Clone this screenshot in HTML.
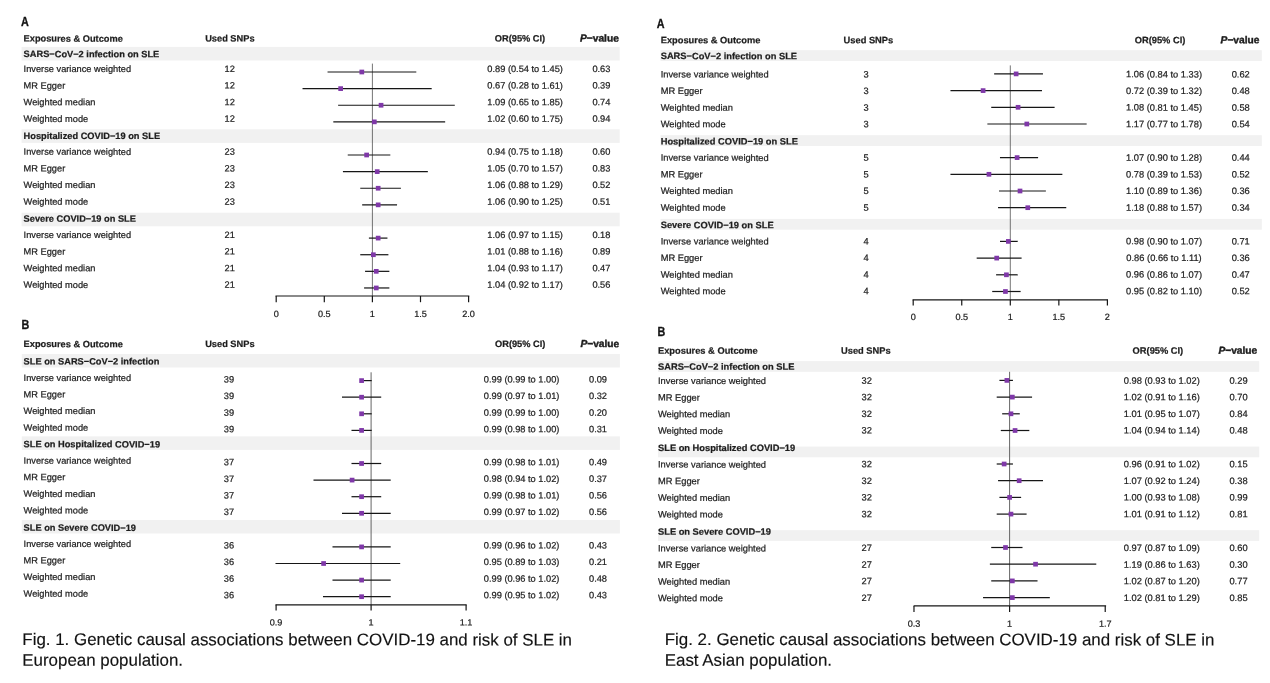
<!DOCTYPE html>
<html lang="en"><head><meta charset="utf-8"><title>Genetic causal associations between COVID-19 and risk of SLE</title>
<style>
html,body{margin:0;padding:0;background:#fff;}
body{width:1270px;height:683px;overflow:hidden;}
svg{display:block;font-family:"Liberation Sans",Arial,Helvetica,sans-serif;}
text{stroke:#1c1c1c;stroke-width:0.22px;paint-order:stroke fill;}
text.cap{stroke-width:0.15px;}
text.pv{stroke-width:0.4px;}
text.ltr{stroke:#111;stroke-width:0.3px;}
</style></head><body>
<svg width="1270" height="683" viewBox="0 0 1270 683">
<rect x="0" y="0" width="1270" height="683" fill="#ffffff"/>
<text transform="translate(20.90,26.00) skewY(0.05) scale(0.82,1)" class="ltr" font-weight="bold" font-size="13.2" fill="#111">A</text>
<text transform="translate(23.60 41.60) skewY(0.05)" font-weight="bold" font-size="9.26" fill="#1c1c1c">Exposures &amp; Outcome</text>
<text transform="translate(229.85 41.60) skewY(0.05)" text-anchor="middle" font-weight="bold" font-size="9.26" fill="#1c1c1c">Used SNPs</text>
<text transform="translate(520.00 41.60) skewY(0.05)" text-anchor="middle" font-weight="bold" font-size="9.26" fill="#1c1c1c">OR(95% CI)</text>
<text transform="translate(580.00 41.60) skewY(0.05)" class="pv" font-weight="bold" font-size="10.2" fill="#1c1c1c"><tspan font-style="italic">P</tspan>−value</text>
<rect x="21.60" y="46.90" width="598.10" height="13.60" fill="#f1f1f1"/>
<rect x="21.60" y="129.30" width="598.10" height="13.60" fill="#f1f1f1"/>
<rect x="21.60" y="212.70" width="598.10" height="13.60" fill="#f1f1f1"/>
<line x1="372.40" y1="63.60" x2="372.40" y2="296.00" stroke="#3a3a3a" stroke-width="0.7"/>
<text transform="translate(23.60 57.10) skewY(0.05)" font-weight="bold" font-size="9.26" fill="#1c1c1c">SARS−CoV−2 infection on SLE</text>
<text transform="translate(23.60 72.00) skewY(0.05)" font-size="9.26" fill="#1c1c1c">Inverse variance weighted</text>
<text transform="translate(229.70 72.00) skewY(0.05)" text-anchor="middle" font-size="9.26" fill="#1c1c1c">12</text>
<text transform="translate(525.10 72.00) skewY(0.05)" text-anchor="middle" font-size="9.26" fill="#1c1c1c">0.89 (0.54 to 1.45)</text>
<text transform="translate(601.40 72.00) skewY(0.05)" text-anchor="middle" font-size="9.26" fill="#1c1c1c">0.63</text>
<line x1="328.15" y1="72.00" x2="415.69" y2="72.00" stroke="#161616" stroke-width="1.22" stroke-linecap="square"/>
<rect x="359.47" y="69.65" width="4.70" height="4.70" fill="#7f38a8"/>
<text transform="translate(23.60 88.62) skewY(0.05)" font-size="9.26" fill="#1c1c1c">MR Egger</text>
<text transform="translate(229.70 88.62) skewY(0.05)" text-anchor="middle" font-size="9.26" fill="#1c1c1c">12</text>
<text transform="translate(525.10 88.62) skewY(0.05)" text-anchor="middle" font-size="9.26" fill="#1c1c1c">0.67 (0.28 to 1.61)</text>
<text transform="translate(601.40 88.62) skewY(0.05)" text-anchor="middle" font-size="9.26" fill="#1c1c1c">0.39</text>
<line x1="303.14" y1="88.62" x2="431.08" y2="88.62" stroke="#161616" stroke-width="1.22" stroke-linecap="square"/>
<rect x="338.30" y="86.27" width="4.70" height="4.70" fill="#7f38a8"/>
<text transform="translate(23.60 105.24) skewY(0.05)" font-size="9.26" fill="#1c1c1c">Weighted median</text>
<text transform="translate(229.70 105.24) skewY(0.05)" text-anchor="middle" font-size="9.26" fill="#1c1c1c">12</text>
<text transform="translate(525.10 105.24) skewY(0.05)" text-anchor="middle" font-size="9.26" fill="#1c1c1c">1.09 (0.65 to 1.85)</text>
<text transform="translate(601.40 105.24) skewY(0.05)" text-anchor="middle" font-size="9.26" fill="#1c1c1c">0.74</text>
<line x1="338.73" y1="105.24" x2="454.17" y2="105.24" stroke="#161616" stroke-width="1.22" stroke-linecap="square"/>
<rect x="378.71" y="102.89" width="4.70" height="4.70" fill="#7f38a8"/>
<text transform="translate(23.60 121.86) skewY(0.05)" font-size="9.26" fill="#1c1c1c">Weighted mode</text>
<text transform="translate(229.70 121.86) skewY(0.05)" text-anchor="middle" font-size="9.26" fill="#1c1c1c">12</text>
<text transform="translate(525.10 121.86) skewY(0.05)" text-anchor="middle" font-size="9.26" fill="#1c1c1c">1.02 (0.60 to 1.75)</text>
<text transform="translate(601.40 121.86) skewY(0.05)" text-anchor="middle" font-size="9.26" fill="#1c1c1c">0.94</text>
<line x1="333.92" y1="121.86" x2="444.55" y2="121.86" stroke="#161616" stroke-width="1.22" stroke-linecap="square"/>
<rect x="371.97" y="119.51" width="4.70" height="4.70" fill="#7f38a8"/>
<text transform="translate(23.60 139.00) skewY(0.05)" font-weight="bold" font-size="9.26" fill="#1c1c1c">Hospitalized COVID−19 on SLE</text>
<text transform="translate(23.60 154.80) skewY(0.05)" font-size="9.26" fill="#1c1c1c">Inverse variance weighted</text>
<text transform="translate(229.70 154.80) skewY(0.05)" text-anchor="middle" font-size="9.26" fill="#1c1c1c">23</text>
<text transform="translate(525.10 154.80) skewY(0.05)" text-anchor="middle" font-size="9.26" fill="#1c1c1c">0.94 (0.75 to 1.18)</text>
<text transform="translate(601.40 154.80) skewY(0.05)" text-anchor="middle" font-size="9.26" fill="#1c1c1c">0.60</text>
<line x1="348.35" y1="155.00" x2="389.72" y2="155.00" stroke="#161616" stroke-width="1.22" stroke-linecap="square"/>
<rect x="364.28" y="152.65" width="4.70" height="4.70" fill="#7f38a8"/>
<text transform="translate(23.60 171.42) skewY(0.05)" font-size="9.26" fill="#1c1c1c">MR Egger</text>
<text transform="translate(229.70 171.42) skewY(0.05)" text-anchor="middle" font-size="9.26" fill="#1c1c1c">23</text>
<text transform="translate(525.10 171.42) skewY(0.05)" text-anchor="middle" font-size="9.26" fill="#1c1c1c">1.05 (0.70 to 1.57)</text>
<text transform="translate(601.40 171.42) skewY(0.05)" text-anchor="middle" font-size="9.26" fill="#1c1c1c">0.83</text>
<line x1="343.54" y1="171.62" x2="427.23" y2="171.62" stroke="#161616" stroke-width="1.22" stroke-linecap="square"/>
<rect x="374.86" y="169.27" width="4.70" height="4.70" fill="#7f38a8"/>
<text transform="translate(23.60 188.04) skewY(0.05)" font-size="9.26" fill="#1c1c1c">Weighted median</text>
<text transform="translate(229.70 188.04) skewY(0.05)" text-anchor="middle" font-size="9.26" fill="#1c1c1c">23</text>
<text transform="translate(525.10 188.04) skewY(0.05)" text-anchor="middle" font-size="9.26" fill="#1c1c1c">1.06 (0.88 to 1.29)</text>
<text transform="translate(601.40 188.04) skewY(0.05)" text-anchor="middle" font-size="9.26" fill="#1c1c1c">0.52</text>
<line x1="360.86" y1="188.24" x2="400.30" y2="188.24" stroke="#161616" stroke-width="1.22" stroke-linecap="square"/>
<rect x="375.82" y="185.89" width="4.70" height="4.70" fill="#7f38a8"/>
<text transform="translate(23.60 204.66) skewY(0.05)" font-size="9.26" fill="#1c1c1c">Weighted mode</text>
<text transform="translate(229.70 204.66) skewY(0.05)" text-anchor="middle" font-size="9.26" fill="#1c1c1c">23</text>
<text transform="translate(525.10 204.66) skewY(0.05)" text-anchor="middle" font-size="9.26" fill="#1c1c1c">1.06 (0.90 to 1.25)</text>
<text transform="translate(601.40 204.66) skewY(0.05)" text-anchor="middle" font-size="9.26" fill="#1c1c1c">0.51</text>
<line x1="362.78" y1="204.86" x2="396.45" y2="204.86" stroke="#161616" stroke-width="1.22" stroke-linecap="square"/>
<rect x="375.82" y="202.51" width="4.70" height="4.70" fill="#7f38a8"/>
<text transform="translate(23.60 221.70) skewY(0.05)" font-weight="bold" font-size="9.26" fill="#1c1c1c">Severe COVID−19 on SLE</text>
<text transform="translate(23.60 238.00) skewY(0.05)" font-size="9.26" fill="#1c1c1c">Inverse variance weighted</text>
<text transform="translate(229.70 238.00) skewY(0.05)" text-anchor="middle" font-size="9.26" fill="#1c1c1c">21</text>
<text transform="translate(525.10 238.00) skewY(0.05)" text-anchor="middle" font-size="9.26" fill="#1c1c1c">1.06 (0.97 to 1.15)</text>
<text transform="translate(601.40 238.00) skewY(0.05)" text-anchor="middle" font-size="9.26" fill="#1c1c1c">0.18</text>
<line x1="369.51" y1="238.10" x2="386.83" y2="238.10" stroke="#161616" stroke-width="1.22" stroke-linecap="square"/>
<rect x="375.82" y="235.75" width="4.70" height="4.70" fill="#7f38a8"/>
<text transform="translate(23.60 254.62) skewY(0.05)" font-size="9.26" fill="#1c1c1c">MR Egger</text>
<text transform="translate(229.70 254.62) skewY(0.05)" text-anchor="middle" font-size="9.26" fill="#1c1c1c">21</text>
<text transform="translate(525.10 254.62) skewY(0.05)" text-anchor="middle" font-size="9.26" fill="#1c1c1c">1.01 (0.88 to 1.16)</text>
<text transform="translate(601.40 254.62) skewY(0.05)" text-anchor="middle" font-size="9.26" fill="#1c1c1c">0.89</text>
<line x1="360.86" y1="254.72" x2="387.79" y2="254.72" stroke="#161616" stroke-width="1.22" stroke-linecap="square"/>
<rect x="371.01" y="252.37" width="4.70" height="4.70" fill="#7f38a8"/>
<text transform="translate(23.60 271.24) skewY(0.05)" font-size="9.26" fill="#1c1c1c">Weighted median</text>
<text transform="translate(229.70 271.24) skewY(0.05)" text-anchor="middle" font-size="9.26" fill="#1c1c1c">21</text>
<text transform="translate(525.10 271.24) skewY(0.05)" text-anchor="middle" font-size="9.26" fill="#1c1c1c">1.04 (0.93 to 1.17)</text>
<text transform="translate(601.40 271.24) skewY(0.05)" text-anchor="middle" font-size="9.26" fill="#1c1c1c">0.47</text>
<line x1="365.67" y1="271.34" x2="388.75" y2="271.34" stroke="#161616" stroke-width="1.22" stroke-linecap="square"/>
<rect x="373.90" y="268.99" width="4.70" height="4.70" fill="#7f38a8"/>
<text transform="translate(23.60 287.86) skewY(0.05)" font-size="9.26" fill="#1c1c1c">Weighted mode</text>
<text transform="translate(229.70 287.86) skewY(0.05)" text-anchor="middle" font-size="9.26" fill="#1c1c1c">21</text>
<text transform="translate(525.10 287.86) skewY(0.05)" text-anchor="middle" font-size="9.26" fill="#1c1c1c">1.04 (0.92 to 1.17)</text>
<text transform="translate(601.40 287.86) skewY(0.05)" text-anchor="middle" font-size="9.26" fill="#1c1c1c">0.56</text>
<line x1="364.70" y1="287.96" x2="388.75" y2="287.96" stroke="#161616" stroke-width="1.22" stroke-linecap="square"/>
<rect x="373.90" y="285.61" width="4.70" height="4.70" fill="#7f38a8"/>
<line x1="275.50" y1="296.00" x2="469.30" y2="296.00" stroke="#161616" stroke-width="1.2"/>
<line x1="276.20" y1="296.00" x2="276.20" y2="302.20" stroke="#161616" stroke-width="1.2"/>
<text transform="translate(276.20 316.90) skewY(0.05)" text-anchor="middle" font-size="9.1" fill="#1c1c1c">0</text>
<line x1="324.30" y1="296.00" x2="324.30" y2="302.20" stroke="#161616" stroke-width="1.2"/>
<text transform="translate(324.30 316.90) skewY(0.05)" text-anchor="middle" font-size="9.1" fill="#1c1c1c">0.5</text>
<line x1="372.40" y1="296.00" x2="372.40" y2="302.20" stroke="#161616" stroke-width="1.2"/>
<text transform="translate(372.40 316.90) skewY(0.05)" text-anchor="middle" font-size="9.1" fill="#1c1c1c">1</text>
<line x1="420.50" y1="296.00" x2="420.50" y2="302.20" stroke="#161616" stroke-width="1.2"/>
<text transform="translate(420.50 316.90) skewY(0.05)" text-anchor="middle" font-size="9.1" fill="#1c1c1c">1.5</text>
<line x1="468.60" y1="296.00" x2="468.60" y2="302.20" stroke="#161616" stroke-width="1.2"/>
<text transform="translate(468.60 316.90) skewY(0.05)" text-anchor="middle" font-size="9.1" fill="#1c1c1c">2.0</text>
<text transform="translate(21.40,329.10) skewY(0.05) scale(0.82,1)" class="ltr" font-weight="bold" font-size="13.2" fill="#111">B</text>
<text transform="translate(23.60 347.10) skewY(0.05)" font-weight="bold" font-size="9.26" fill="#1c1c1c">Exposures &amp; Outcome</text>
<text transform="translate(229.85 347.10) skewY(0.05)" text-anchor="middle" font-weight="bold" font-size="9.26" fill="#1c1c1c">Used SNPs</text>
<text transform="translate(520.20 347.10) skewY(0.05)" text-anchor="middle" font-weight="bold" font-size="9.26" fill="#1c1c1c">OR(95% CI)</text>
<text transform="translate(580.40 347.10) skewY(0.05)" class="pv" font-weight="bold" font-size="10.2" fill="#1c1c1c"><tspan font-style="italic">P</tspan>−value</text>
<rect x="21.80" y="354.00" width="598.10" height="13.50" fill="#f1f1f1"/>
<rect x="21.80" y="436.40" width="598.10" height="13.50" fill="#f1f1f1"/>
<rect x="21.80" y="520.00" width="598.10" height="13.50" fill="#f1f1f1"/>
<line x1="371.10" y1="372.30" x2="371.10" y2="604.80" stroke="#555" stroke-width="0.9"/>
<text transform="translate(23.60 364.50) skewY(0.05)" font-weight="bold" font-size="9.26" fill="#1c1c1c">SLE on SARS−CoV−2 infection</text>
<text transform="translate(23.60 380.90) skewY(0.05)" font-size="9.26" fill="#1c1c1c">Inverse variance weighted</text>
<text transform="translate(229.00 382.50) skewY(0.05)" text-anchor="middle" font-size="9.26" fill="#1c1c1c">39</text>
<text transform="translate(521.60 382.50) skewY(0.05)" text-anchor="middle" font-size="9.26" fill="#1c1c1c">0.99 (0.99 to 1.00)</text>
<text transform="translate(598.00 382.50) skewY(0.05)" text-anchor="middle" font-size="9.26" fill="#1c1c1c">0.09</text>
<line x1="361.60" y1="380.60" x2="371.10" y2="380.60" stroke="#161616" stroke-width="1.22" stroke-linecap="square"/>
<rect x="359.25" y="378.25" width="4.70" height="4.70" fill="#7f38a8"/>
<text transform="translate(23.60 397.48) skewY(0.05)" font-size="9.26" fill="#1c1c1c">MR Egger</text>
<text transform="translate(229.00 399.08) skewY(0.05)" text-anchor="middle" font-size="9.26" fill="#1c1c1c">39</text>
<text transform="translate(521.60 399.08) skewY(0.05)" text-anchor="middle" font-size="9.26" fill="#1c1c1c">0.99 (0.97 to 1.01)</text>
<text transform="translate(598.00 399.08) skewY(0.05)" text-anchor="middle" font-size="9.26" fill="#1c1c1c">0.32</text>
<line x1="342.60" y1="397.20" x2="380.60" y2="397.20" stroke="#161616" stroke-width="1.22" stroke-linecap="square"/>
<rect x="359.25" y="394.85" width="4.70" height="4.70" fill="#7f38a8"/>
<text transform="translate(23.60 414.06) skewY(0.05)" font-size="9.26" fill="#1c1c1c">Weighted median</text>
<text transform="translate(229.00 415.66) skewY(0.05)" text-anchor="middle" font-size="9.26" fill="#1c1c1c">39</text>
<text transform="translate(521.60 415.66) skewY(0.05)" text-anchor="middle" font-size="9.26" fill="#1c1c1c">0.99 (0.99 to 1.00)</text>
<text transform="translate(598.00 415.66) skewY(0.05)" text-anchor="middle" font-size="9.26" fill="#1c1c1c">0.20</text>
<line x1="361.60" y1="413.80" x2="371.10" y2="413.80" stroke="#161616" stroke-width="1.22" stroke-linecap="square"/>
<rect x="359.25" y="411.45" width="4.70" height="4.70" fill="#7f38a8"/>
<text transform="translate(23.60 430.64) skewY(0.05)" font-size="9.26" fill="#1c1c1c">Weighted mode</text>
<text transform="translate(229.00 432.24) skewY(0.05)" text-anchor="middle" font-size="9.26" fill="#1c1c1c">39</text>
<text transform="translate(521.60 432.24) skewY(0.05)" text-anchor="middle" font-size="9.26" fill="#1c1c1c">0.99 (0.98 to 1.00)</text>
<text transform="translate(598.00 432.24) skewY(0.05)" text-anchor="middle" font-size="9.26" fill="#1c1c1c">0.31</text>
<line x1="352.10" y1="430.40" x2="371.10" y2="430.40" stroke="#161616" stroke-width="1.22" stroke-linecap="square"/>
<rect x="359.25" y="428.05" width="4.70" height="4.70" fill="#7f38a8"/>
<text transform="translate(23.60 447.30) skewY(0.05)" font-weight="bold" font-size="9.26" fill="#1c1c1c">SLE on Hospitalized COVID−19</text>
<text transform="translate(23.60 463.70) skewY(0.05)" font-size="9.26" fill="#1c1c1c">Inverse variance weighted</text>
<text transform="translate(229.00 465.30) skewY(0.05)" text-anchor="middle" font-size="9.26" fill="#1c1c1c">37</text>
<text transform="translate(521.60 465.30) skewY(0.05)" text-anchor="middle" font-size="9.26" fill="#1c1c1c">0.99 (0.98 to 1.01)</text>
<text transform="translate(598.00 465.30) skewY(0.05)" text-anchor="middle" font-size="9.26" fill="#1c1c1c">0.49</text>
<line x1="352.10" y1="463.50" x2="380.60" y2="463.50" stroke="#161616" stroke-width="1.22" stroke-linecap="square"/>
<rect x="359.25" y="461.15" width="4.70" height="4.70" fill="#7f38a8"/>
<text transform="translate(23.60 480.28) skewY(0.05)" font-size="9.26" fill="#1c1c1c">MR Egger</text>
<text transform="translate(229.00 481.88) skewY(0.05)" text-anchor="middle" font-size="9.26" fill="#1c1c1c">37</text>
<text transform="translate(521.60 481.88) skewY(0.05)" text-anchor="middle" font-size="9.26" fill="#1c1c1c">0.98 (0.94 to 1.02)</text>
<text transform="translate(598.00 481.88) skewY(0.05)" text-anchor="middle" font-size="9.26" fill="#1c1c1c">0.37</text>
<line x1="314.10" y1="480.10" x2="390.10" y2="480.10" stroke="#161616" stroke-width="1.22" stroke-linecap="square"/>
<rect x="349.75" y="477.75" width="4.70" height="4.70" fill="#7f38a8"/>
<text transform="translate(23.60 496.86) skewY(0.05)" font-size="9.26" fill="#1c1c1c">Weighted median</text>
<text transform="translate(229.00 498.46) skewY(0.05)" text-anchor="middle" font-size="9.26" fill="#1c1c1c">37</text>
<text transform="translate(521.60 498.46) skewY(0.05)" text-anchor="middle" font-size="9.26" fill="#1c1c1c">0.99 (0.98 to 1.01)</text>
<text transform="translate(598.00 498.46) skewY(0.05)" text-anchor="middle" font-size="9.26" fill="#1c1c1c">0.56</text>
<line x1="352.10" y1="496.70" x2="380.60" y2="496.70" stroke="#161616" stroke-width="1.22" stroke-linecap="square"/>
<rect x="359.25" y="494.35" width="4.70" height="4.70" fill="#7f38a8"/>
<text transform="translate(23.60 513.44) skewY(0.05)" font-size="9.26" fill="#1c1c1c">Weighted mode</text>
<text transform="translate(229.00 515.04) skewY(0.05)" text-anchor="middle" font-size="9.26" fill="#1c1c1c">37</text>
<text transform="translate(521.60 515.04) skewY(0.05)" text-anchor="middle" font-size="9.26" fill="#1c1c1c">0.99 (0.97 to 1.02)</text>
<text transform="translate(598.00 515.04) skewY(0.05)" text-anchor="middle" font-size="9.26" fill="#1c1c1c">0.56</text>
<line x1="342.60" y1="513.30" x2="390.10" y2="513.30" stroke="#161616" stroke-width="1.22" stroke-linecap="square"/>
<rect x="359.25" y="510.95" width="4.70" height="4.70" fill="#7f38a8"/>
<text transform="translate(23.60 530.80) skewY(0.05)" font-weight="bold" font-size="9.26" fill="#1c1c1c">SLE on Severe COVID−19</text>
<text transform="translate(23.60 546.90) skewY(0.05)" font-size="9.26" fill="#1c1c1c">Inverse variance weighted</text>
<text transform="translate(229.00 548.50) skewY(0.05)" text-anchor="middle" font-size="9.26" fill="#1c1c1c">36</text>
<text transform="translate(521.60 548.50) skewY(0.05)" text-anchor="middle" font-size="9.26" fill="#1c1c1c">0.99 (0.96 to 1.02)</text>
<text transform="translate(598.00 548.50) skewY(0.05)" text-anchor="middle" font-size="9.26" fill="#1c1c1c">0.43</text>
<line x1="333.10" y1="546.90" x2="390.10" y2="546.90" stroke="#161616" stroke-width="1.22" stroke-linecap="square"/>
<rect x="359.25" y="544.55" width="4.70" height="4.70" fill="#7f38a8"/>
<text transform="translate(23.60 563.48) skewY(0.05)" font-size="9.26" fill="#1c1c1c">MR Egger</text>
<text transform="translate(229.00 565.08) skewY(0.05)" text-anchor="middle" font-size="9.26" fill="#1c1c1c">36</text>
<text transform="translate(521.60 565.08) skewY(0.05)" text-anchor="middle" font-size="9.26" fill="#1c1c1c">0.95 (0.89 to 1.03)</text>
<text transform="translate(598.00 565.08) skewY(0.05)" text-anchor="middle" font-size="9.26" fill="#1c1c1c">0.21</text>
<line x1="276.10" y1="563.50" x2="399.60" y2="563.50" stroke="#161616" stroke-width="1.22" stroke-linecap="square"/>
<rect x="321.25" y="561.15" width="4.70" height="4.70" fill="#7f38a8"/>
<text transform="translate(23.60 580.06) skewY(0.05)" font-size="9.26" fill="#1c1c1c">Weighted median</text>
<text transform="translate(229.00 581.66) skewY(0.05)" text-anchor="middle" font-size="9.26" fill="#1c1c1c">36</text>
<text transform="translate(521.60 581.66) skewY(0.05)" text-anchor="middle" font-size="9.26" fill="#1c1c1c">0.99 (0.96 to 1.02)</text>
<text transform="translate(598.00 581.66) skewY(0.05)" text-anchor="middle" font-size="9.26" fill="#1c1c1c">0.48</text>
<line x1="333.10" y1="580.10" x2="390.10" y2="580.10" stroke="#161616" stroke-width="1.22" stroke-linecap="square"/>
<rect x="359.25" y="577.75" width="4.70" height="4.70" fill="#7f38a8"/>
<text transform="translate(23.60 596.64) skewY(0.05)" font-size="9.26" fill="#1c1c1c">Weighted mode</text>
<text transform="translate(229.00 598.24) skewY(0.05)" text-anchor="middle" font-size="9.26" fill="#1c1c1c">36</text>
<text transform="translate(521.60 598.24) skewY(0.05)" text-anchor="middle" font-size="9.26" fill="#1c1c1c">0.99 (0.95 to 1.02)</text>
<text transform="translate(598.00 598.24) skewY(0.05)" text-anchor="middle" font-size="9.26" fill="#1c1c1c">0.43</text>
<line x1="323.60" y1="596.70" x2="390.10" y2="596.70" stroke="#161616" stroke-width="1.22" stroke-linecap="square"/>
<rect x="359.25" y="594.35" width="4.70" height="4.70" fill="#7f38a8"/>
<line x1="275.50" y1="604.80" x2="466.60" y2="604.80" stroke="#161616" stroke-width="1.2"/>
<line x1="276.10" y1="604.80" x2="276.10" y2="610.50" stroke="#161616" stroke-width="1.2"/>
<text transform="translate(276.10 625.40) skewY(0.05)" text-anchor="middle" font-size="9.1" fill="#1c1c1c">0.9</text>
<line x1="371.10" y1="604.80" x2="371.10" y2="610.50" stroke="#161616" stroke-width="1.2"/>
<text transform="translate(371.10 625.40) skewY(0.05)" text-anchor="middle" font-size="9.1" fill="#1c1c1c">1</text>
<line x1="466.10" y1="604.80" x2="466.10" y2="610.50" stroke="#161616" stroke-width="1.2"/>
<text transform="translate(466.10 625.40) skewY(0.05)" text-anchor="middle" font-size="9.1" fill="#1c1c1c">1.1</text>
<text transform="translate(656.70,27.90) skewY(0.05) scale(0.82,1)" class="ltr" font-weight="bold" font-size="13.2" fill="#111">A</text>
<text transform="translate(660.70 43.20) skewY(0.05)" font-weight="bold" font-size="9.3" fill="#1c1c1c">Exposures &amp; Outcome</text>
<text transform="translate(868.40 43.20) skewY(0.05)" text-anchor="middle" font-weight="bold" font-size="9.3" fill="#1c1c1c">Used SNPs</text>
<text transform="translate(1160.00 43.20) skewY(0.05)" text-anchor="middle" font-weight="bold" font-size="9.3" fill="#1c1c1c">OR(95% CI)</text>
<text transform="translate(1220.60 43.20) skewY(0.05)" class="pv" font-weight="bold" font-size="10.2" fill="#1c1c1c"><tspan font-style="italic">P</tspan>−value</text>
<rect x="660.50" y="50.20" width="601.30" height="10.80" fill="#f1f1f1"/>
<rect x="660.50" y="135.20" width="601.30" height="10.80" fill="#f1f1f1"/>
<rect x="660.50" y="218.90" width="601.30" height="10.80" fill="#f1f1f1"/>
<line x1="1010.30" y1="65.40" x2="1010.30" y2="299.80" stroke="#3a3a3a" stroke-width="0.7"/>
<text transform="translate(660.70 59.10) skewY(0.05)" font-weight="bold" font-size="9.3" fill="#1c1c1c">SARS−CoV−2 infection on SLE</text>
<text transform="translate(660.70 77.40) skewY(0.05)" font-size="9.3" fill="#1c1c1c">Inverse variance weighted</text>
<text transform="translate(866.00 77.40) skewY(0.05)" text-anchor="middle" font-size="9.3" fill="#1c1c1c">3</text>
<text transform="translate(1164.00 77.40) skewY(0.05)" text-anchor="middle" font-size="9.3" fill="#1c1c1c">1.06 (0.84 to 1.33)</text>
<text transform="translate(1240.70 77.40) skewY(0.05)" text-anchor="middle" font-size="9.3" fill="#1c1c1c">0.62</text>
<line x1="994.76" y1="73.90" x2="1042.34" y2="73.90" stroke="#161616" stroke-width="1.22" stroke-linecap="square"/>
<rect x="1013.78" y="71.55" width="4.70" height="4.70" fill="#7f38a8"/>
<text transform="translate(660.70 94.02) skewY(0.05)" font-size="9.3" fill="#1c1c1c">MR Egger</text>
<text transform="translate(866.00 94.02) skewY(0.05)" text-anchor="middle" font-size="9.3" fill="#1c1c1c">3</text>
<text transform="translate(1164.00 94.02) skewY(0.05)" text-anchor="middle" font-size="9.3" fill="#1c1c1c">0.72 (0.39 to 1.32)</text>
<text transform="translate(1240.70 94.02) skewY(0.05)" text-anchor="middle" font-size="9.3" fill="#1c1c1c">0.48</text>
<line x1="951.07" y1="90.60" x2="1041.37" y2="90.60" stroke="#161616" stroke-width="1.22" stroke-linecap="square"/>
<rect x="980.76" y="88.25" width="4.70" height="4.70" fill="#7f38a8"/>
<text transform="translate(660.70 110.64) skewY(0.05)" font-size="9.3" fill="#1c1c1c">Weighted median</text>
<text transform="translate(866.00 110.64) skewY(0.05)" text-anchor="middle" font-size="9.3" fill="#1c1c1c">3</text>
<text transform="translate(1164.00 110.64) skewY(0.05)" text-anchor="middle" font-size="9.3" fill="#1c1c1c">1.08 (0.81 to 1.45)</text>
<text transform="translate(1240.70 110.64) skewY(0.05)" text-anchor="middle" font-size="9.3" fill="#1c1c1c">0.58</text>
<line x1="991.85" y1="107.30" x2="1053.99" y2="107.30" stroke="#161616" stroke-width="1.22" stroke-linecap="square"/>
<rect x="1015.72" y="104.95" width="4.70" height="4.70" fill="#7f38a8"/>
<text transform="translate(660.70 127.26) skewY(0.05)" font-size="9.3" fill="#1c1c1c">Weighted mode</text>
<text transform="translate(866.00 127.26) skewY(0.05)" text-anchor="middle" font-size="9.3" fill="#1c1c1c">3</text>
<text transform="translate(1164.00 127.26) skewY(0.05)" text-anchor="middle" font-size="9.3" fill="#1c1c1c">1.17 (0.77 to 1.78)</text>
<text transform="translate(1240.70 127.26) skewY(0.05)" text-anchor="middle" font-size="9.3" fill="#1c1c1c">0.54</text>
<line x1="987.97" y1="124.00" x2="1086.04" y2="124.00" stroke="#161616" stroke-width="1.22" stroke-linecap="square"/>
<rect x="1024.46" y="121.65" width="4.70" height="4.70" fill="#7f38a8"/>
<text transform="translate(660.70 144.40) skewY(0.05)" font-weight="bold" font-size="9.3" fill="#1c1c1c">Hospitalized COVID−19 on SLE</text>
<text transform="translate(660.70 160.80) skewY(0.05)" font-size="9.3" fill="#1c1c1c">Inverse variance weighted</text>
<text transform="translate(866.00 160.80) skewY(0.05)" text-anchor="middle" font-size="9.3" fill="#1c1c1c">5</text>
<text transform="translate(1164.00 160.80) skewY(0.05)" text-anchor="middle" font-size="9.3" fill="#1c1c1c">1.07 (0.90 to 1.28)</text>
<text transform="translate(1240.70 160.80) skewY(0.05)" text-anchor="middle" font-size="9.3" fill="#1c1c1c">0.44</text>
<line x1="1000.59" y1="157.60" x2="1037.49" y2="157.60" stroke="#161616" stroke-width="1.22" stroke-linecap="square"/>
<rect x="1014.75" y="155.25" width="4.70" height="4.70" fill="#7f38a8"/>
<text transform="translate(660.70 177.42) skewY(0.05)" font-size="9.3" fill="#1c1c1c">MR Egger</text>
<text transform="translate(866.00 177.42) skewY(0.05)" text-anchor="middle" font-size="9.3" fill="#1c1c1c">5</text>
<text transform="translate(1164.00 177.42) skewY(0.05)" text-anchor="middle" font-size="9.3" fill="#1c1c1c">0.78 (0.39 to 1.53)</text>
<text transform="translate(1240.70 177.42) skewY(0.05)" text-anchor="middle" font-size="9.3" fill="#1c1c1c">0.52</text>
<line x1="951.07" y1="174.30" x2="1061.76" y2="174.30" stroke="#161616" stroke-width="1.22" stroke-linecap="square"/>
<rect x="986.59" y="171.95" width="4.70" height="4.70" fill="#7f38a8"/>
<text transform="translate(660.70 194.04) skewY(0.05)" font-size="9.3" fill="#1c1c1c">Weighted median</text>
<text transform="translate(866.00 194.04) skewY(0.05)" text-anchor="middle" font-size="9.3" fill="#1c1c1c">5</text>
<text transform="translate(1164.00 194.04) skewY(0.05)" text-anchor="middle" font-size="9.3" fill="#1c1c1c">1.10 (0.89 to 1.36)</text>
<text transform="translate(1240.70 194.04) skewY(0.05)" text-anchor="middle" font-size="9.3" fill="#1c1c1c">0.36</text>
<line x1="999.62" y1="191.00" x2="1045.26" y2="191.00" stroke="#161616" stroke-width="1.22" stroke-linecap="square"/>
<rect x="1017.66" y="188.65" width="4.70" height="4.70" fill="#7f38a8"/>
<text transform="translate(660.70 210.66) skewY(0.05)" font-size="9.3" fill="#1c1c1c">Weighted mode</text>
<text transform="translate(866.00 210.66) skewY(0.05)" text-anchor="middle" font-size="9.3" fill="#1c1c1c">5</text>
<text transform="translate(1164.00 210.66) skewY(0.05)" text-anchor="middle" font-size="9.3" fill="#1c1c1c">1.18 (0.88 to 1.57)</text>
<text transform="translate(1240.70 210.66) skewY(0.05)" text-anchor="middle" font-size="9.3" fill="#1c1c1c">0.34</text>
<line x1="998.65" y1="207.70" x2="1065.65" y2="207.70" stroke="#161616" stroke-width="1.22" stroke-linecap="square"/>
<rect x="1025.43" y="205.35" width="4.70" height="4.70" fill="#7f38a8"/>
<text transform="translate(660.70 228.10) skewY(0.05)" font-weight="bold" font-size="9.3" fill="#1c1c1c">Severe COVID−19 on SLE</text>
<text transform="translate(660.70 244.40) skewY(0.05)" font-size="9.3" fill="#1c1c1c">Inverse variance weighted</text>
<text transform="translate(866.00 244.40) skewY(0.05)" text-anchor="middle" font-size="9.3" fill="#1c1c1c">4</text>
<text transform="translate(1164.00 244.40) skewY(0.05)" text-anchor="middle" font-size="9.3" fill="#1c1c1c">0.98 (0.90 to 1.07)</text>
<text transform="translate(1240.70 244.40) skewY(0.05)" text-anchor="middle" font-size="9.3" fill="#1c1c1c">0.71</text>
<line x1="1000.59" y1="241.40" x2="1017.10" y2="241.40" stroke="#161616" stroke-width="1.22" stroke-linecap="square"/>
<rect x="1006.01" y="239.05" width="4.70" height="4.70" fill="#7f38a8"/>
<text transform="translate(660.70 261.02) skewY(0.05)" font-size="9.3" fill="#1c1c1c">MR Egger</text>
<text transform="translate(866.00 261.02) skewY(0.05)" text-anchor="middle" font-size="9.3" fill="#1c1c1c">4</text>
<text transform="translate(1164.00 261.02) skewY(0.05)" text-anchor="middle" font-size="9.3" fill="#1c1c1c">0.86 (0.66 to 1.11)</text>
<text transform="translate(1240.70 261.02) skewY(0.05)" text-anchor="middle" font-size="9.3" fill="#1c1c1c">0.36</text>
<line x1="977.29" y1="258.10" x2="1020.98" y2="258.10" stroke="#161616" stroke-width="1.22" stroke-linecap="square"/>
<rect x="994.36" y="255.75" width="4.70" height="4.70" fill="#7f38a8"/>
<text transform="translate(660.70 277.64) skewY(0.05)" font-size="9.3" fill="#1c1c1c">Weighted median</text>
<text transform="translate(866.00 277.64) skewY(0.05)" text-anchor="middle" font-size="9.3" fill="#1c1c1c">4</text>
<text transform="translate(1164.00 277.64) skewY(0.05)" text-anchor="middle" font-size="9.3" fill="#1c1c1c">0.96 (0.86 to 1.07)</text>
<text transform="translate(1240.70 277.64) skewY(0.05)" text-anchor="middle" font-size="9.3" fill="#1c1c1c">0.47</text>
<line x1="996.71" y1="274.80" x2="1017.10" y2="274.80" stroke="#161616" stroke-width="1.22" stroke-linecap="square"/>
<rect x="1004.07" y="272.45" width="4.70" height="4.70" fill="#7f38a8"/>
<text transform="translate(660.70 294.26) skewY(0.05)" font-size="9.3" fill="#1c1c1c">Weighted mode</text>
<text transform="translate(866.00 294.26) skewY(0.05)" text-anchor="middle" font-size="9.3" fill="#1c1c1c">4</text>
<text transform="translate(1164.00 294.26) skewY(0.05)" text-anchor="middle" font-size="9.3" fill="#1c1c1c">0.95 (0.82 to 1.10)</text>
<text transform="translate(1240.70 294.26) skewY(0.05)" text-anchor="middle" font-size="9.3" fill="#1c1c1c">0.52</text>
<line x1="992.82" y1="291.50" x2="1020.01" y2="291.50" stroke="#161616" stroke-width="1.22" stroke-linecap="square"/>
<rect x="1003.09" y="289.15" width="4.70" height="4.70" fill="#7f38a8"/>
<line x1="912.60" y1="299.80" x2="1108.00" y2="299.80" stroke="#161616" stroke-width="1.2"/>
<line x1="913.20" y1="299.80" x2="913.20" y2="305.60" stroke="#161616" stroke-width="1.2"/>
<text transform="translate(913.20 320.00) skewY(0.05)" text-anchor="middle" font-size="9.1" fill="#1c1c1c">0</text>
<line x1="961.75" y1="299.80" x2="961.75" y2="305.60" stroke="#161616" stroke-width="1.2"/>
<text transform="translate(961.75 320.00) skewY(0.05)" text-anchor="middle" font-size="9.1" fill="#1c1c1c">0.5</text>
<line x1="1010.30" y1="299.80" x2="1010.30" y2="305.60" stroke="#161616" stroke-width="1.2"/>
<text transform="translate(1010.30 320.00) skewY(0.05)" text-anchor="middle" font-size="9.1" fill="#1c1c1c">1</text>
<line x1="1058.85" y1="299.80" x2="1058.85" y2="305.60" stroke="#161616" stroke-width="1.2"/>
<text transform="translate(1058.85 320.00) skewY(0.05)" text-anchor="middle" font-size="9.1" fill="#1c1c1c">1.5</text>
<line x1="1107.40" y1="299.80" x2="1107.40" y2="305.60" stroke="#161616" stroke-width="1.2"/>
<text transform="translate(1107.40 320.00) skewY(0.05)" text-anchor="middle" font-size="9.1" fill="#1c1c1c">2</text>
<text transform="translate(657.60,336.10) skewY(0.05) scale(0.82,1)" class="ltr" font-weight="bold" font-size="13.2" fill="#111">B</text>
<text transform="translate(658.00 353.70) skewY(0.05)" font-weight="bold" font-size="9.3" fill="#1c1c1c">Exposures &amp; Outcome</text>
<text transform="translate(865.80 353.70) skewY(0.05)" text-anchor="middle" font-weight="bold" font-size="9.3" fill="#1c1c1c">Used SNPs</text>
<text transform="translate(1157.90 353.70) skewY(0.05)" text-anchor="middle" font-weight="bold" font-size="9.3" fill="#1c1c1c">OR(95% CI)</text>
<text transform="translate(1218.40 353.70) skewY(0.05)" class="pv" font-weight="bold" font-size="10.2" fill="#1c1c1c"><tspan font-style="italic">P</tspan>−value</text>
<rect x="658.00" y="361.10" width="601.20" height="10.70" fill="#f1f1f1"/>
<rect x="658.00" y="446.60" width="601.20" height="10.70" fill="#f1f1f1"/>
<rect x="658.00" y="530.20" width="601.20" height="10.70" fill="#f1f1f1"/>
<line x1="1009.60" y1="371.80" x2="1009.60" y2="605.90" stroke="#555" stroke-width="0.9"/>
<text transform="translate(658.00 369.70) skewY(0.05)" font-weight="bold" font-size="9.3" fill="#1c1c1c">SARS−CoV−2 infection on SLE</text>
<text transform="translate(658.00 384.00) skewY(0.05)" font-size="9.3" fill="#1c1c1c">Inverse variance weighted</text>
<text transform="translate(866.70 383.70) skewY(0.05)" text-anchor="middle" font-size="9.3" fill="#1c1c1c">32</text>
<text transform="translate(1161.80 383.70) skewY(0.05)" text-anchor="middle" font-size="9.3" fill="#1c1c1c">0.98 (0.93 to 1.02)</text>
<text transform="translate(1238.50 383.70) skewY(0.05)" text-anchor="middle" font-size="9.3" fill="#1c1c1c">0.29</text>
<line x1="1000.04" y1="380.40" x2="1012.33" y2="380.40" stroke="#161616" stroke-width="1.22" stroke-linecap="square"/>
<rect x="1004.52" y="378.05" width="4.70" height="4.70" fill="#7f38a8"/>
<text transform="translate(658.00 400.62) skewY(0.05)" font-size="9.3" fill="#1c1c1c">MR Egger</text>
<text transform="translate(866.70 400.32) skewY(0.05)" text-anchor="middle" font-size="9.3" fill="#1c1c1c">32</text>
<text transform="translate(1161.80 400.32) skewY(0.05)" text-anchor="middle" font-size="9.3" fill="#1c1c1c">1.02 (0.91 to 1.16)</text>
<text transform="translate(1238.50 400.32) skewY(0.05)" text-anchor="middle" font-size="9.3" fill="#1c1c1c">0.70</text>
<line x1="997.31" y1="397.10" x2="1031.46" y2="397.10" stroke="#161616" stroke-width="1.22" stroke-linecap="square"/>
<rect x="1009.98" y="394.75" width="4.70" height="4.70" fill="#7f38a8"/>
<text transform="translate(658.00 417.24) skewY(0.05)" font-size="9.3" fill="#1c1c1c">Weighted median</text>
<text transform="translate(866.70 416.94) skewY(0.05)" text-anchor="middle" font-size="9.3" fill="#1c1c1c">32</text>
<text transform="translate(1161.80 416.94) skewY(0.05)" text-anchor="middle" font-size="9.3" fill="#1c1c1c">1.01 (0.95 to 1.07)</text>
<text transform="translate(1238.50 416.94) skewY(0.05)" text-anchor="middle" font-size="9.3" fill="#1c1c1c">0.84</text>
<line x1="1002.77" y1="413.80" x2="1019.16" y2="413.80" stroke="#161616" stroke-width="1.22" stroke-linecap="square"/>
<rect x="1008.62" y="411.45" width="4.70" height="4.70" fill="#7f38a8"/>
<text transform="translate(658.00 433.86) skewY(0.05)" font-size="9.3" fill="#1c1c1c">Weighted mode</text>
<text transform="translate(866.70 433.56) skewY(0.05)" text-anchor="middle" font-size="9.3" fill="#1c1c1c">32</text>
<text transform="translate(1161.80 433.56) skewY(0.05)" text-anchor="middle" font-size="9.3" fill="#1c1c1c">1.04 (0.94 to 1.14)</text>
<text transform="translate(1238.50 433.56) skewY(0.05)" text-anchor="middle" font-size="9.3" fill="#1c1c1c">0.48</text>
<line x1="1001.40" y1="430.50" x2="1028.72" y2="430.50" stroke="#161616" stroke-width="1.22" stroke-linecap="square"/>
<rect x="1012.71" y="428.15" width="4.70" height="4.70" fill="#7f38a8"/>
<text transform="translate(658.00 451.00) skewY(0.05)" font-weight="bold" font-size="9.3" fill="#1c1c1c">SLE on Hospitalized COVID−19</text>
<text transform="translate(658.00 467.60) skewY(0.05)" font-size="9.3" fill="#1c1c1c">Inverse variance weighted</text>
<text transform="translate(866.70 467.30) skewY(0.05)" text-anchor="middle" font-size="9.3" fill="#1c1c1c">32</text>
<text transform="translate(1161.80 467.30) skewY(0.05)" text-anchor="middle" font-size="9.3" fill="#1c1c1c">0.96 (0.91 to 1.02)</text>
<text transform="translate(1238.50 467.30) skewY(0.05)" text-anchor="middle" font-size="9.3" fill="#1c1c1c">0.15</text>
<line x1="997.31" y1="464.00" x2="1012.33" y2="464.00" stroke="#161616" stroke-width="1.22" stroke-linecap="square"/>
<rect x="1001.79" y="461.65" width="4.70" height="4.70" fill="#7f38a8"/>
<text transform="translate(658.00 484.22) skewY(0.05)" font-size="9.3" fill="#1c1c1c">MR Egger</text>
<text transform="translate(866.70 483.92) skewY(0.05)" text-anchor="middle" font-size="9.3" fill="#1c1c1c">32</text>
<text transform="translate(1161.80 483.92) skewY(0.05)" text-anchor="middle" font-size="9.3" fill="#1c1c1c">1.07 (0.92 to 1.24)</text>
<text transform="translate(1238.50 483.92) skewY(0.05)" text-anchor="middle" font-size="9.3" fill="#1c1c1c">0.38</text>
<line x1="998.67" y1="480.70" x2="1042.38" y2="480.70" stroke="#161616" stroke-width="1.22" stroke-linecap="square"/>
<rect x="1016.81" y="478.35" width="4.70" height="4.70" fill="#7f38a8"/>
<text transform="translate(658.00 500.84) skewY(0.05)" font-size="9.3" fill="#1c1c1c">Weighted median</text>
<text transform="translate(866.70 500.54) skewY(0.05)" text-anchor="middle" font-size="9.3" fill="#1c1c1c">32</text>
<text transform="translate(1161.80 500.54) skewY(0.05)" text-anchor="middle" font-size="9.3" fill="#1c1c1c">1.00 (0.93 to 1.08)</text>
<text transform="translate(1238.50 500.54) skewY(0.05)" text-anchor="middle" font-size="9.3" fill="#1c1c1c">0.99</text>
<line x1="1000.04" y1="497.40" x2="1020.53" y2="497.40" stroke="#161616" stroke-width="1.22" stroke-linecap="square"/>
<rect x="1007.25" y="495.05" width="4.70" height="4.70" fill="#7f38a8"/>
<text transform="translate(658.00 517.46) skewY(0.05)" font-size="9.3" fill="#1c1c1c">Weighted mode</text>
<text transform="translate(866.70 517.16) skewY(0.05)" text-anchor="middle" font-size="9.3" fill="#1c1c1c">32</text>
<text transform="translate(1161.80 517.16) skewY(0.05)" text-anchor="middle" font-size="9.3" fill="#1c1c1c">1.01 (0.91 to 1.12)</text>
<text transform="translate(1238.50 517.16) skewY(0.05)" text-anchor="middle" font-size="9.3" fill="#1c1c1c">0.81</text>
<line x1="997.31" y1="514.10" x2="1025.99" y2="514.10" stroke="#161616" stroke-width="1.22" stroke-linecap="square"/>
<rect x="1008.62" y="511.75" width="4.70" height="4.70" fill="#7f38a8"/>
<text transform="translate(658.00 534.70) skewY(0.05)" font-weight="bold" font-size="9.3" fill="#1c1c1c">SLE on Severe COVID−19</text>
<text transform="translate(658.00 551.40) skewY(0.05)" font-size="9.3" fill="#1c1c1c">Inverse variance weighted</text>
<text transform="translate(866.70 551.10) skewY(0.05)" text-anchor="middle" font-size="9.3" fill="#1c1c1c">27</text>
<text transform="translate(1161.80 551.10) skewY(0.05)" text-anchor="middle" font-size="9.3" fill="#1c1c1c">0.97 (0.87 to 1.09)</text>
<text transform="translate(1238.50 551.10) skewY(0.05)" text-anchor="middle" font-size="9.3" fill="#1c1c1c">0.60</text>
<line x1="991.84" y1="547.50" x2="1021.89" y2="547.50" stroke="#161616" stroke-width="1.22" stroke-linecap="square"/>
<rect x="1003.15" y="545.15" width="4.70" height="4.70" fill="#7f38a8"/>
<text transform="translate(658.00 568.02) skewY(0.05)" font-size="9.3" fill="#1c1c1c">MR Egger</text>
<text transform="translate(866.70 567.72) skewY(0.05)" text-anchor="middle" font-size="9.3" fill="#1c1c1c">27</text>
<text transform="translate(1161.80 567.72) skewY(0.05)" text-anchor="middle" font-size="9.3" fill="#1c1c1c">1.19 (0.86 to 1.63)</text>
<text transform="translate(1238.50 567.72) skewY(0.05)" text-anchor="middle" font-size="9.3" fill="#1c1c1c">0.30</text>
<line x1="990.48" y1="564.20" x2="1095.66" y2="564.20" stroke="#161616" stroke-width="1.22" stroke-linecap="square"/>
<rect x="1033.20" y="561.85" width="4.70" height="4.70" fill="#7f38a8"/>
<text transform="translate(658.00 584.64) skewY(0.05)" font-size="9.3" fill="#1c1c1c">Weighted median</text>
<text transform="translate(866.70 584.34) skewY(0.05)" text-anchor="middle" font-size="9.3" fill="#1c1c1c">27</text>
<text transform="translate(1161.80 584.34) skewY(0.05)" text-anchor="middle" font-size="9.3" fill="#1c1c1c">1.02 (0.87 to 1.20)</text>
<text transform="translate(1238.50 584.34) skewY(0.05)" text-anchor="middle" font-size="9.3" fill="#1c1c1c">0.77</text>
<line x1="991.84" y1="580.90" x2="1036.92" y2="580.90" stroke="#161616" stroke-width="1.22" stroke-linecap="square"/>
<rect x="1009.98" y="578.55" width="4.70" height="4.70" fill="#7f38a8"/>
<text transform="translate(658.00 601.26) skewY(0.05)" font-size="9.3" fill="#1c1c1c">Weighted mode</text>
<text transform="translate(866.70 600.96) skewY(0.05)" text-anchor="middle" font-size="9.3" fill="#1c1c1c">27</text>
<text transform="translate(1161.80 600.96) skewY(0.05)" text-anchor="middle" font-size="9.3" fill="#1c1c1c">1.02 (0.81 to 1.29)</text>
<text transform="translate(1238.50 600.96) skewY(0.05)" text-anchor="middle" font-size="9.3" fill="#1c1c1c">0.85</text>
<line x1="983.65" y1="597.60" x2="1049.21" y2="597.60" stroke="#161616" stroke-width="1.22" stroke-linecap="square"/>
<rect x="1009.98" y="595.25" width="4.70" height="4.70" fill="#7f38a8"/>
<line x1="913.60" y1="605.90" x2="1106.10" y2="605.90" stroke="#161616" stroke-width="1.2"/>
<line x1="913.98" y1="605.90" x2="913.98" y2="611.90" stroke="#161616" stroke-width="1.2"/>
<text transform="translate(913.98 626.70) skewY(0.05)" text-anchor="middle" font-size="9.1" fill="#1c1c1c">0.3</text>
<line x1="1009.60" y1="605.90" x2="1009.60" y2="611.90" stroke="#161616" stroke-width="1.2"/>
<text transform="translate(1009.60 626.70) skewY(0.05)" text-anchor="middle" font-size="9.1" fill="#1c1c1c">1</text>
<line x1="1105.22" y1="605.90" x2="1105.22" y2="611.90" stroke="#161616" stroke-width="1.2"/>
<text transform="translate(1105.22 626.70) skewY(0.05)" text-anchor="middle" font-size="9.1" fill="#1c1c1c">1.7</text>
<text transform="translate(22.30 645.00) skewY(0.05)" font-size="16.915" fill="#111" class="cap">Fig. 1. Genetic causal associations between COVID-19 and risk of SLE in</text>
<text transform="translate(22.30 665.70) skewY(0.05)" font-size="16.915" fill="#111" class="cap">European population.</text>
<text transform="translate(664.70 645.00) skewY(0.05)" font-size="16.915" fill="#111" class="cap">Fig. 2. Genetic causal associations between COVID-19 and risk of SLE in</text>
<text transform="translate(664.70 665.70) skewY(0.05)" font-size="16.915" fill="#111" class="cap">East Asian population.</text>
</svg>
</body></html>
